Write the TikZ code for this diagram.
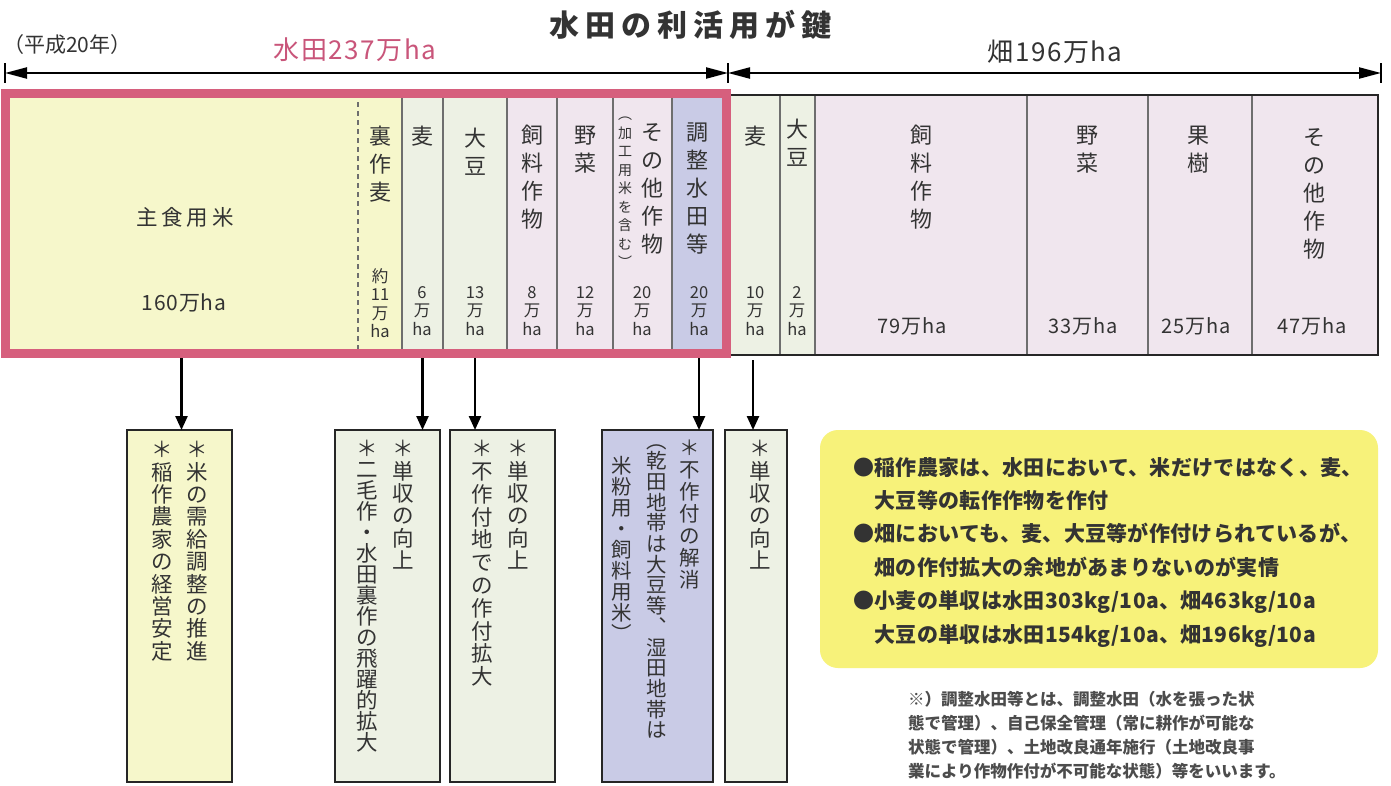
\documentclass[tikz,border=0pt]{standalone}
\usepackage{fontspec}
\setmainfont{Noto Sans CJK JP}
\usetikzlibrary{arrows.meta}
\definecolor{pinkb}{HTML}{D65F7D}
\definecolor{pinktxt}{HTML}{C9557A}
\definecolor{ricey}{HTML}{F6F7CB}
\definecolor{greenc}{HTML}{EDF1E4}
\definecolor{lavc}{HTML}{F0E6EE}
\definecolor{bluec}{HTML}{C9CBE6}
\definecolor{yelbox}{HTML}{F7F27A}
\definecolor{txt}{HTML}{333333}
\definecolor{cellline}{HTML}{6E6E6E}
\begin{document}
\begin{tikzpicture}[x=1pt,y=-1pt,
  cell/.style={draw=cellline,line width=1.3pt,inner sep=0pt,outer sep=0pt,anchor=north west,minimum height=260pt},
  vlab/.style={font=\fontsize{22}{28}\selectfont,align=center,anchor=north,inner sep=0pt,text=txt},
  vsmall/.style={font=\fontsize{14}{18.5}\selectfont,align=center,anchor=north,inner sep=0pt,text=txt},
  vval/.style={font=\fontsize{16.5}{18.5}\selectfont,align=center,anchor=north,inner sep=0pt,text=txt},
  hval/.style={font=\fontsize{20}{22}\selectfont\addfontfeature{LetterSpace=4},inner sep=0pt,text=txt},
  bbox/.style={draw=black!85,line width=2.4pt,inner sep=0pt,outer sep=0pt,anchor=north west,minimum height=352pt},
  btxt/.style={font=\fontsize{21.5}{22.4}\selectfont,align=center,anchor=north,inner sep=0pt,text=txt},
  darr/.style={line width=2.4pt,-{Triangle[length=14pt,width=12pt]},shorten <=5pt},
  harr/.style={line width=2.2pt,{Triangle[length=22pt,width=11pt]}-{Triangle[length=22pt,width=11pt]}}
]
\fill[white] (0,0) rectangle (1391,785);
\useasboundingbox (0,0) rectangle (1391,785);

% title and headers
\node[font=\fontsize{30}{32}\selectfont\bfseries\addfontfeature{LetterSpace=20},text=txt,inner sep=0pt] (title) at (690,25) {水田の利活用が鍵};
\node[font=\fontsize{21}{23}\selectfont,text=txt,anchor=west,inner sep=0pt] (year) at (3,45) {（平成20年）};
\node[font=\fontsize{26}{28}\selectfont\addfontfeature{LetterSpace=6},text=pinktxt,inner sep=0pt] (suidenlab) at (355,50) {水田237万ha};
\node[font=\fontsize{26}{28}\selectfont\addfontfeature{LetterSpace=6},text=txt,inner sep=0pt] (hatalab) at (1055,52) {畑196万ha};

\coordinate (aL) at (5,73);
\coordinate (aM) at (728,73);
\coordinate (aR) at (1381,73);
\draw[harr] (aL) -- (aM);
\draw[harr] (aM) -- (aR);
\draw[line width=1.6pt] (5,63) -- (5,83);
\draw[line width=1.6pt] (728,63) -- (728,83);
\draw[line width=1.6pt] (1381,63) -- (1381,83);

% paddy cells
\node[cell,draw=none,fill=ricey,minimum width=353pt] (crice) at (5,93) {};
\node[cell,draw=none,fill=ricey,minimum width=44pt] (cura) at (358,93) {};
\node[cell,fill=greenc,minimum width=41pt] (cmugi) at (402,93) {};
\node[cell,fill=greenc,minimum width=64pt] (cdaizu) at (443,93) {};
\node[cell,fill=lavc,minimum width=50pt] (cshiryo) at (507,93) {};
\node[cell,fill=lavc,minimum width=56pt] (cyasai) at (557,93) {};
\node[cell,fill=lavc,minimum width=59pt] (csonota) at (613,93) {};
\node[cell,fill=bluec,minimum width=54pt] (cchosei) at (672,93) {};
\draw[cellline,line width=1.3pt,dash pattern=on 5pt off 4pt] (cura.north west) -- (cura.south west);

% upland cells
\node[cell,fill=greenc,minimum width=54pt] (hmugi) at (726,95) {};
\node[cell,fill=greenc,minimum width=35pt] (hdaizu) at (780,95) {};
\node[cell,fill=lavc,minimum width=212pt] (hshiryo) at (815,95) {};
\node[cell,fill=lavc,minimum width=121pt] (hyasai) at (1027,95) {};
\node[cell,fill=lavc,minimum width=104pt] (hkaju) at (1148,95) {};
\node[cell,fill=lavc,minimum width=126pt] (hsonota) at (1252,95) {};

\draw[black!85,line width=2.2pt] (726,95) rectangle (1378,355);
\draw[pinkb,line width=9pt] (5,93) rectangle (726,353);

% labels in cells
\node[font=\fontsize{21.5}{23}\selectfont\addfontfeature{LetterSpace=18},text=txt,inner sep=0pt] (lrice) at (185,217) {主食用米};
\node[font=\fontsize{21}{23}\selectfont\addfontfeature{LetterSpace=4},text=txt,inner sep=0pt] (vrice) at (184,303) {160万ha};
\node[vlab] (lura) at (380,126) {裏\\作\\麦};
\node[vlab] (lmugi) at (422,126) {麦};
\node[vlab] (ldaizu) at (475,128) {大\\豆};
\node[vlab] (lshiryo) at (532,125) {飼\\料\\作\\物};
\node[vlab] (lyasai) at (585,126) {野\\菜};
\node[vlab] (lsonota) at (652,123) {そ\\の\\他\\作\\物};
\node[vsmall] (lkako) at (625,117) {︵\\加\\工\\用\\米\\を\\含\\む\\︶};
\node[vlab] (lchosei) at (697,123) {調\\整\\水\\田\\等};

\node[vval] (vura) at (380,268) {約\\11\\万\\ha};
\node[vval] (vmugi) at (422,286) {6\\万\\ha};
\node[vval] (vdaizu) at (475,286) {13\\万\\ha};
\node[vval] (vshiryo) at (532,286) {8\\万\\ha};
\node[vval] (vyasai) at (585,286) {12\\万\\ha};
\node[vval] (vsonota) at (642,286) {20\\万\\ha};
\node[vval] (vchosei) at (699,286) {20\\万\\ha};

\node[vlab] (lhmugi) at (755,126) {麦};
\node[vlab] (lhdaizu) at (797,119) {大\\豆};
\node[vlab] (lhshiryo) at (921,125) {飼\\料\\作\\物};
\node[vlab] (lhyasai) at (1087,126) {野\\菜};
\node[vlab] (lhkaju) at (1198,126) {果\\樹};
\node[vlab] (lhsonota) at (1314,128) {そ\\の\\他\\作\\物};

\node[vval] (vhmugi) at (755,286) {10\\万\\ha};
\node[vval] (vhdaizu) at (797,286) {2\\万\\ha};
\node[hval] (vhshiryo) at (912,326) {79万ha};
\node[hval] (vhyasai) at (1083,326) {33万ha};
\node[hval] (vhkaju) at (1196,326) {25万ha};
\node[hval] (vhsonota) at (1312,326) {47万ha};

% bottom boxes
\node[bbox,fill=ricey,minimum width=105pt] (b1) at (127,430) {};
\node[bbox,fill=greenc,minimum width=105pt] (b2) at (335,430) {};
\node[bbox,fill=greenc,minimum width=105pt] (b3) at (450,430) {};
\node[bbox,fill=bluec,minimum width=111pt] (b4) at (602,430) {};
\node[bbox,fill=greenc,minimum width=62pt] (b5) at (725,430) {};

\node[btxt] (t1a) at (197,441) {＊\\米\\の\\需\\給\\調\\整\\の\\推\\進};
\node[btxt] (t1b) at (162,441) {＊\\稲\\作\\農\\家\\の\\経\\営\\安\\定};
\node[btxt] (t2a) at (403,440) {＊\\単\\収\\の\\向\\上};
\node[btxt,font=\fontsize{21.5}{21}\selectfont] (t2b) at (367,440) {＊\\二\\毛\\作\\・\\水\\田\\裏\\作\\の\\飛\\躍\\的\\拡\\大};
\node[btxt] (t3a) at (518,440) {＊\\単\\収\\の\\向\\上};
\node[btxt,font=\fontsize{21.5}{22.8}\selectfont] (t3b) at (482,440) {＊\\不\\作\\付\\地\\で\\の\\作\\付\\拡\\大};
\node[btxt,font=\fontsize{20.5}{22}\selectfont] (t4a) at (690,440) {＊\\不\\作\\付\\の\\解\\消};
\node[btxt,font=\fontsize{20.5}{20.7}\selectfont] (t4b) at (657,444) {︵\\乾\\田\\地\\帯\\は\\大\\豆\\等\\︑\\湿\\田\\地\\帯\\は};
\node[btxt,font=\fontsize{20.5}{21}\selectfont] (t4c) at (622,456) {米\\粉\\用\\・\\飼\\料\\用\\米\\︶};
\node[btxt] (t5a) at (760,440) {＊\\単\\収\\の\\向\\上};

% arrows
\draw[darr] (crice.south) -- (crice.south |- b1.north);
\draw[darr] (cmugi.south) -- (cmugi.south |- b2.north);
\draw[darr] (cdaizu.south) -- (cdaizu.south |- b3.north);
\draw[darr] (cchosei.south) -- (cchosei.south |- b4.north);
\draw[darr] (hmugi.south) -- (hmugi.south |- b5.north);

% yellow note
\fill[yelbox,rounded corners=18pt] (820,430) rectangle (1378,668);
\node[font=\fontsize{21}{33.4}\selectfont\bfseries\addfontfeature{LetterSpace=1.5},text=txt,align=left,anchor=north west,inner sep=0pt] (note) at (853,457) {●稲作農家は、水田において、米だけではなく、麦、\\　大豆等の転作作物を作付\\●畑においても、麦、大豆等が作付けられているが、\\　畑の作付拡大の余地があまりないのが実情\\●小麦の単収は水田303kg/10a、畑463kg/10a\\　大豆の単収は水田154kg/10a、畑196kg/10a};

% footnote
\node[font=\fontsize{16.5}{24}\selectfont\bfseries,text=black!70,align=left,anchor=north west,inner sep=0pt] (foot) at (908,691) {※）調整水田等とは、調整水田（水を張った状\\態で管理）、自己保全管理（常に耕作が可能な\\状態で管理）、土地改良通年施行（土地改良事\\業により作物作付が不可能な状態）等をいいます。};
\end{tikzpicture}
\end{document}
